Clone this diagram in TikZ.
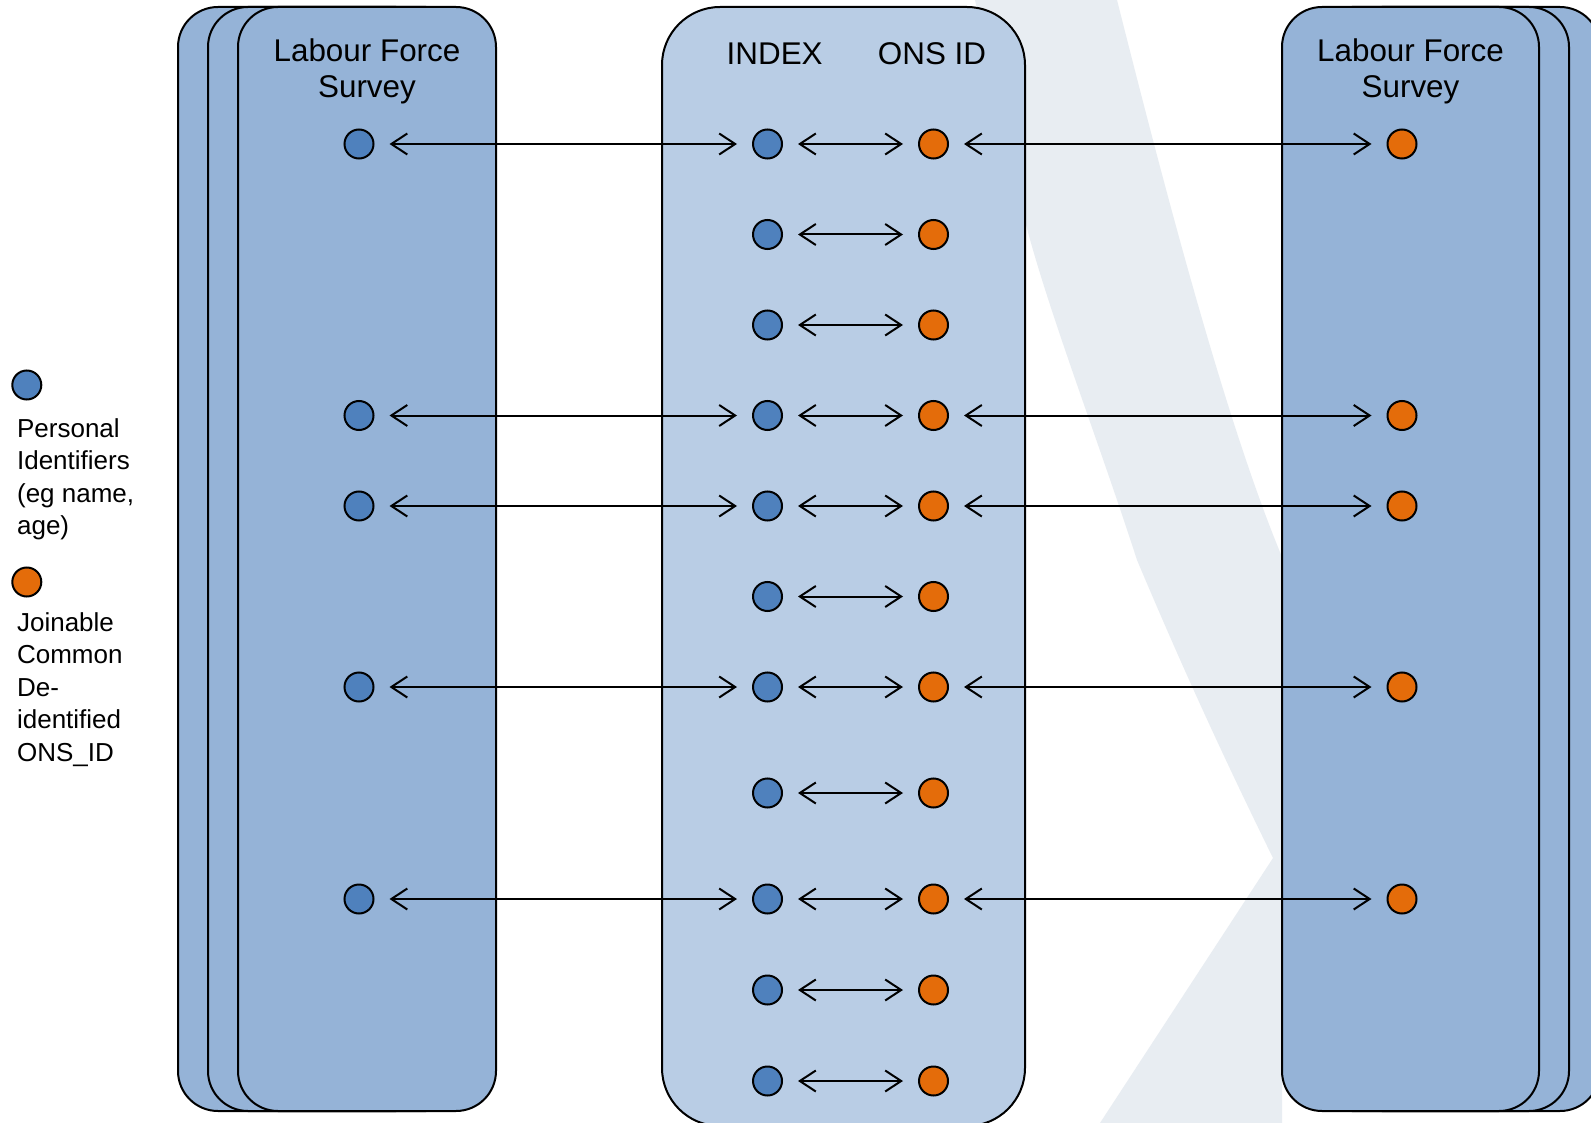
\documentclass[tikz,border=0pt]{standalone}
\usepackage{fontspec}
\setmainfont{Liberation Sans}
\usetikzlibrary{arrows.meta}
\definecolor{boxdark}{HTML}{95B3D7}
\definecolor{boxlight}{HTML}{B9CDE5}
\definecolor{dotblue}{HTML}{4F81BD}
\definecolor{dotorange}{HTML}{E46C0A}
\definecolor{wmark}{HTML}{E8EDF2}
\begin{document}
\begin{tikzpicture}[x=0.5pt,y=-0.5pt,
  survey/.style={draw=black, line width=1pt, fill=boxdark, rounded corners=20pt},
  indexbox/.style={draw=black, line width=1pt, fill=boxlight, rounded corners=29pt},
  bdot/.style={circle, draw=black, line width=1pt, fill=dotblue, minimum size=14.5pt, inner sep=0pt},
  odot/.style={circle, draw=black, line width=1pt, fill=dotorange, minimum size=14.5pt, inner sep=0pt},
  link/.style={line width=1pt, {Straight Barb[length=8pt,width=10.5pt]}-{Straight Barb[length=8pt,width=10.5pt]}, shorten <=7.5pt, shorten >=7.5pt},
  hdr/.style={font=\fontsize{15.7}{18}\selectfont, inner sep=0pt, align=center},
  legend/.style={font=\fontsize{13}{16.25}\selectfont, inner sep=0pt, align=left}]
\useasboundingbox (0,0) rectangle (1591,1123);
\clip (0,0) rectangle (1591,1123);
\fill[white] (0,0) rectangle (1591,1123);
% watermark
\fill[wmark] (975,0) -- (1117,0) .. controls (1165,190) and (1225,420) .. (1282,557)
  -- (1282,1123) -- (1100,1123) -- (1273,858)
  .. controls (1215,740) and (1175,650) .. (1137,560)
  .. controls (1095,430) and (1040,290) .. (1020,200) -- cycle;
% left stack
\draw[survey] (178,7) rectangle (436,1111);
\draw[survey] (208,7) rectangle (466,1111);
\draw[survey] (238,7) rectangle (496,1111);
% right stack
\draw[survey] (1342,7) rectangle (1600,1111);
\draw[survey] (1312,7) rectangle (1569,1111);
\draw[survey] (1282,7) rectangle (1539,1111);
% centre
\draw[indexbox] (662,7) rectangle (1025,1126);
% headers
\node[hdr, anchor=north] (lfsL) at (367,38.5) {Labour Force\\Survey};
\node[hdr, anchor=north] (lfsR) at (1410.5,38.5) {Labour Force\\Survey};
\node[hdr, anchor=base] (idx) at (774.7,65) {INDEX};
\node[hdr, anchor=base] (ons) at (932,65) {ONS ID};
% rows
\foreach \i/\y in {1/144, 2/234.5, 3/325, 4/415.5, 5/506, 6/596.5, 7/687, 8/793, 9/899, 10/990, 11/1081} {
  \node[bdot] (I\i) at (767.5,\y) {};
  \node[odot] (O\i) at (933.5,\y) {};
  \draw[link] (I\i) -- (O\i);
}
\foreach \i/\y in {1/144, 4/415.5, 5/506, 7/687, 9/899} {
  \node[bdot] (L\i) at (359,\y) {};
  \node[odot] (R\i) at (1402,\y) {};
  \draw[link] (L\i) -- (I\i);
  \draw[link] (O\i) -- (R\i);
}
% legend
\node[bdot] (legB) at (26.8,385) {};
\node[odot] (legO) at (26.8,582) {};
\node[legend, anchor=north west] (legBt) at (16.7,418) {Personal\\Identifiers\\(eg name,\\age)};
\node[legend, anchor=north west] (legOt) at (16.7,612) {Joinable\\Common\\De-\\identified\\ONS\_ID};
\end{tikzpicture}
\end{document}
